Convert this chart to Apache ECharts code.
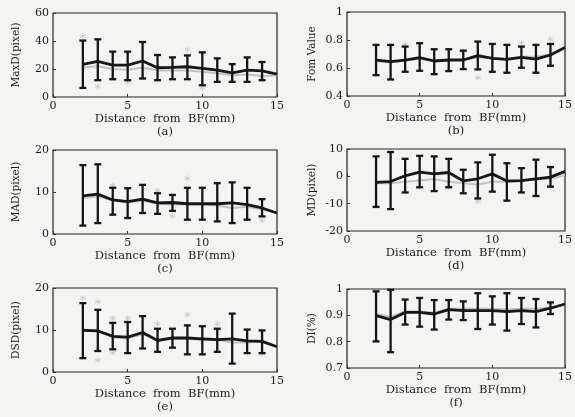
<!DOCTYPE html>
<html>
<head>
<meta charset="utf-8">
<script src="https://cdn.jsdelivr.net/npm/echarts@6/dist/echarts.min.js"></script>
<style>
html, body { margin: 0; padding: 0; background: #f4f4f2; }
#main { width: 575px; height: 417px; }
</style>
</head>
<body>
<div id="main"></div>
<script>
// x positions (mm)
var xs = [2, 3, 4, 5, 6, 7, 8, 9, 10, 11, 12, 13, 14, 15];

// (a) MaxD
var aMean = [23.3, 25.4, 22.8, 22.8, 25.7, 20.9, 21.1, 21.6, 20.4, 19.2, 17.3, 19.2, 18.7, 16.3];
var aHi = [40.3, 41.2, 32.4, 32.4, 39.3, 30, 28.3, 29.7, 31.9, 27.6, 23.5, 28.3, 25];
var aLo = [6.5, 12, 12.7, 12, 13.2, 12, 12.7, 12.7, 8.4, 10.8, 10.8, 10.8, 12];
var aGray = [21, 22, 20, 19.5, 21, 19, 19, 19, 18, 17, 15.5, 16, 15, 15.5];
var aStars = [[2, 43.5], [3, 7.5], [5, 10.5], [9, 34], [10, 6.5], [14, 13]];

// (b) FomValue
var bMean = [0.657, 0.645, 0.657, 0.674, 0.65, 0.657, 0.657, 0.688, 0.669, 0.662, 0.676, 0.664, 0.693, 0.746];
var bHi = [0.765, 0.765, 0.753, 0.777, 0.734, 0.734, 0.724, 0.789, 0.772, 0.765, 0.753, 0.765, 0.772];
var bLo = [0.549, 0.518, 0.573, 0.58, 0.556, 0.578, 0.592, 0.59, 0.573, 0.566, 0.602, 0.566, 0.616];
var bGray = [0.65, 0.64, 0.655, 0.665, 0.65, 0.655, 0.66, 0.675, 0.67, 0.665, 0.68, 0.68, 0.7, 0.74];
var bStars = [[4, 0.77], [8, 0.72], [9, 0.53], [12, 0.78], [14, 0.805]];

// (c) MAD
var cMean = [9.1, 9.5, 8.1, 7.7, 8.3, 7.4, 7.5, 7.2, 7.2, 7.2, 7.4, 7.0, 6.2, 5.0];
var cHi = [16.4, 16.6, 11.0, 10.9, 11.7, 9.7, 9.3, 11.0, 11.0, 12.1, 12.3, 11.0, 8.3];
var cLo = [2.0, 2.6, 4.6, 3.8, 5.0, 4.8, 5.5, 3.4, 3.4, 3.0, 2.6, 3.4, 4.2];
var cGray = [8.5, 9, 8, 7.5, 8, 7.2, 7, 7, 7, 6.8, 6.2, 6.5, 5.8, 5];
var cStars = [[4, 11.6], [7, 10.3], [8, 4.3], [9, 13.3], [14, 3.2]];

// (d) MD
var dMean = [-2.2, -1.9, 0.2, 1.5, 0.9, 1.4, -1.7, -0.9, 0.9, -1.7, -1.6, -0.9, -0.3, 1.8];
var dHi = [7.3, 8.9, 6.4, 7.5, 7.3, 6.4, 2.4, 5.1, 7.9, 4.8, 3.0, 6.1, 3.4];
var dLo = [-11.2, -12.0, -5.9, -4.0, -5.4, -4.0, -6.2, -8.1, -5.6, -8.9, -5.9, -7.2, -3.8];
var dGray = [-2.5, -2.5, -2, -1.5, -1, -2, -2.5, -3, -2, -2, -1.5, -1, -1, 0.5];
var dStars = [[5, -4.2], [7, -4.2], [9, -9.2], [14, -3.5]];

// (e) DSD
var eMean = [9.9, 9.8, 8.5, 8.3, 9.4, 7.5, 8.1, 8.1, 7.9, 7.7, 7.9, 7.4, 7.3, 6.0];
var eHi = [16.4, 14.8, 11.7, 11.9, 13.3, 10.3, 10.3, 11.1, 10.9, 10.3, 13.9, 10.1, 9.9];
var eLo = [3.3, 5.0, 5.4, 4.5, 5.6, 4.8, 5.8, 4.2, 4.2, 4.8, 2.0, 4.5, 4.5];
var eGray = [10.2, 9.8, 8.3, 8.0, 9.0, 7.7, 7.8, 7.9, 7.6, 7.6, 7.0, 7.0, 7.2, 6.0];
var eStars = [[2, 17.6], [3, 16.7], [3, 2.8], [4, 12.8], [4, 4.6], [5, 12.8], [7, 11.5], [9, 13.7], [11, 11.5], [14, 4.3]];

// (f) DI
var fMean = [0.899, 0.884, 0.911, 0.911, 0.905, 0.922, 0.918, 0.918, 0.918, 0.914, 0.918, 0.914, 0.927, 0.943];
var fHi = [0.991, 0.997, 0.96, 0.966, 0.958, 0.958, 0.953, 0.984, 0.972, 0.984, 0.966, 0.962, 0.949];
var fLo = [0.801, 0.76, 0.865, 0.857, 0.846, 0.884, 0.882, 0.848, 0.865, 0.842, 0.867, 0.854, 0.905];
var fGray = [0.905, 0.895, 0.915, 0.915, 0.91, 0.925, 0.925, 0.925, 0.925, 0.922, 0.925, 0.925, 0.93, 0.94];
var fStars = [[14, 0.945]];

var panels = [
    { name: 'MaxD(pixel)', cap: '(a)', min: 0, max: 60, step: 20, mean: aMean, hi: aHi, lo: aLo, gray: aGray, stars: aStars,
      grid: { left: 53, top: 13, width: 224, height: 84 }, gap: 31 },
    { name: 'Fom Value', cap: '(b)', min: 0.4, max: 1, step: 0.2, mean: bMean, hi: bHi, lo: bLo, gray: bGray, stars: bStars,
      grid: { left: 347, top: 12, width: 225, height: 84 }, gap: 29 },
    { name: 'MAD(pixel)', cap: '(c)', min: 0, max: 20, step: 10, mean: cMean, hi: cHi, lo: cLo, gray: cGray, stars: cStars,
      grid: { left: 53, top: 150, width: 224, height: 84 }, gap: 31 },
    { name: 'MD(pixel)', cap: '(d)', min: -20, max: 10, step: 10, mean: dMean, hi: dHi, lo: dLo, gray: dGray, stars: dStars,
      grid: { left: 347, top: 149, width: 225, height: 82 }, gap: 29 },
    { name: 'DSD(pixel)', cap: '(e)', min: 0, max: 20, step: 10, mean: eMean, hi: eHi, lo: eLo, gray: eGray, stars: eStars,
      grid: { left: 53, top: 288, width: 224, height: 84 }, gap: 31 },
    { name: 'DI(%)', cap: '(f)', min: 0.7, max: 1, step: 0.1, mean: fMean, hi: fHi, lo: fLo, gray: fGray, stars: fStars,
      grid: { left: 347, top: 289, width: 225, height: 79 }, gap: 29 }
];

var font = '"DejaVu Serif", "Liberation Serif", serif';
var myChart = echarts.init(document.getElementById('main'));

// vertical error bar with caps
function errorBar(params, api) {
    var top = api.coord([api.value(0), api.value(2)]);
    var bot = api.coord([api.value(0), api.value(1)]);
    var w = 3.5;
    var st = { stroke: '#161616', lineWidth: 2.3 };
    return {
        type: 'group',
        children: [
            { type: 'line', shape: { x1: top[0], y1: top[1], x2: bot[0], y2: bot[1] }, style: st },
            { type: 'line', shape: { x1: top[0] - w, y1: top[1], x2: top[0] + w, y2: top[1] }, style: st },
            { type: 'line', shape: { x1: bot[0] - w, y1: bot[1], x2: bot[0] + w, y2: bot[1] }, style: st }
        ]
    };
}

var grids = [], xAxes = [], yAxes = [], series = [];
panels.forEach(function (p, i) {
    grids.push(Object.assign({ show: true, borderColor: '#222', borderWidth: 1.2, backgroundColor: 'transparent' }, p.grid));
    xAxes.push({
        type: 'value', gridIndex: i, min: 0, max: 15, interval: 5,
        name: 'Distance  from  BF(mm)\n' + p.cap, nameLocation: 'middle', nameGap: 15,
        nameTextStyle: { fontFamily: font, fontSize: 11.5, color: '#1a1a1a', lineHeight: 13, verticalAlign: 'top' },
        axisLine: { show: false },
        axisTick: { show: true, inside: true, length: 3, lineStyle: { color: '#333' } },
        axisLabel: { fontFamily: font, fontSize: 11, color: '#1a1a1a', margin: 4 },
        splitLine: { show: false }
    });
    yAxes.push({
        type: 'value', gridIndex: i, min: p.min, max: p.max, interval: p.step,
        name: p.name, nameLocation: 'middle', nameGap: p.gap, nameRotate: 90,
        nameTextStyle: { fontFamily: font, fontSize: 10.5, color: '#1a1a1a' },
        axisLine: { show: false },
        axisTick: { show: true, inside: true, length: 3, lineStyle: { color: '#333' } },
        axisLabel: { fontFamily: font, fontSize: 11, color: '#1a1a1a', margin: 4 },
        splitLine: { show: false }
    });
    series.push({
        type: 'line', xAxisIndex: i, yAxisIndex: i, symbol: 'none', z: 2,
        lineStyle: { color: '#c2c2c2', width: 2 },
        data: xs.map(function (x, k) { return [x, p.gray[k]]; })
    });
    series.push({
        type: 'scatter', xAxisIndex: i, yAxisIndex: i, z: 2,
        symbol: 'path://M0,-5L0,5M-4.3,-2.5L4.3,2.5M-4.3,2.5L4.3,-2.5', symbolSize: 6,
        itemStyle: { color: 'none', borderColor: '#c4c4c4', borderWidth: 1 },
        data: p.stars
    });
    series.push({
        type: 'custom', xAxisIndex: i, yAxisIndex: i, z: 3,
        renderItem: errorBar,
        data: p.lo.map(function (v, k) { return [xs[k], v, p.hi[k]]; })
    });
    series.push({
        type: 'line', xAxisIndex: i, yAxisIndex: i, symbol: 'none', z: 4,
        lineStyle: { color: '#161616', width: 2.8 },
        data: xs.map(function (x, k) { return [x, p.mean[k]]; })
    });
});

var option = {
    backgroundColor: '#f4f4f2',
    animation: false,
    grid: grids,
    xAxis: xAxes,
    yAxis: yAxes,
    series: series
};
myChart.setOption(option);
window.addEventListener('resize', function () {
    myChart.resize();
});
</script>
</body>
</html>
